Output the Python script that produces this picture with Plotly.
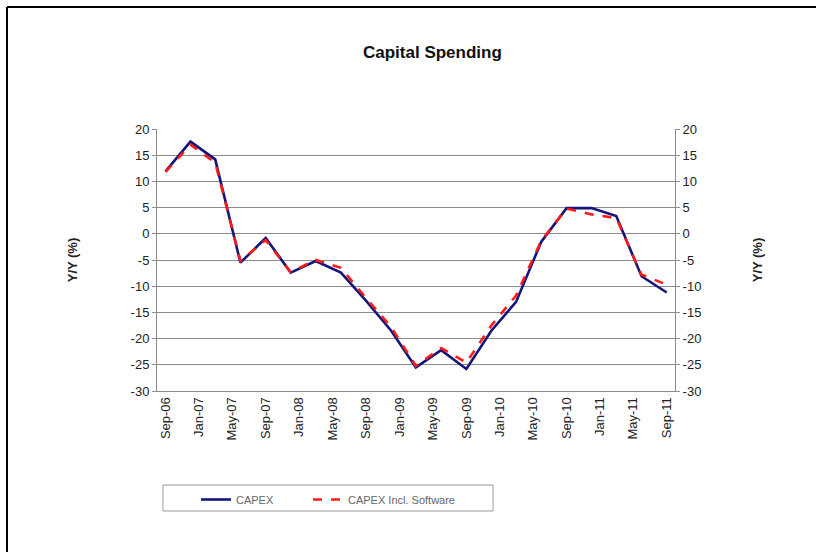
import plotly.graph_objects as go

# Quarterly observations, Sep-06 through Sep-11
quarters = [
    "2006-09-01", "2006-12-01", "2007-03-01", "2007-06-01", "2007-09-01",
    "2007-12-01", "2008-03-01", "2008-06-01", "2008-09-01", "2008-12-01",
    "2009-03-01", "2009-06-01", "2009-09-01", "2009-12-01", "2010-03-01",
    "2010-06-01", "2010-09-01", "2010-12-01", "2011-03-01", "2011-06-01",
    "2011-09-01",
]
capex = [11.9, 17.6, 14.2, -5.5, -0.8, -7.4, -5.2, -7.4, -12.8, -18.5,
         -25.5, -22.2, -25.8, -18.5, -13.0, -1.5, 4.9, 4.9, 3.4, -8.1, -11.2]
capex_software = [11.8, 17.0, 13.6, -5.2, -1.2, -7.3, -5.0, -6.5, -12.3, -17.8,
                  -25.2, -21.8, -24.6, -17.5, -11.8, -1.3, 4.8, 3.7, 3.0, -7.8, -9.7]

series_names = ["CAPEX", "CAPEX Incl. Software"]
y_ticks = [20, 15, 10, 5, 0, -5, -10, -15, -20, -25, -30]
y_ticktext = [str(v) for v in y_ticks]  # plain hyphen minus signs

FONT = "Liberation Sans, Arial, sans-serif"
GRID = "#8c8c8c"

fig = go.Figure()
fig.add_trace(go.Scatter(
    x=quarters, y=capex, name=series_names[0], mode="lines",
    line=dict(color="#14147a", width=2.6), legend="legend",
))
fig.add_trace(go.Scatter(
    x=quarters, y=capex_software, name=series_names[1], mode="lines",
    line=dict(color="#ff1a1a", width=2.6, dash="dash"), yaxis="y2",
    legend="legend2",
))

# plot area spans x 157..675 px, y 129..391 px
L, R, T, B = 157, 816 - 675, 129, 552 - 391
pw, ph = 816 - L - R, 552 - T - B


def px_x(p):
    return (p - L) / pw


def px_y(p):
    return (552 - B - p) / ph


title_font = dict(family=FONT, size=13, color="#222")
axis_common = dict(
    range=[-30, 20], tickvals=y_ticks, ticktext=y_ticktext, ticks="outside",
    ticklen=4, tickcolor=GRID, showline=True, linecolor=GRID, linewidth=1,
    tickfont=dict(family=FONT, size=13, color="#222"), zeroline=False,
    fixedrange=True,
)

legend_common = dict(
    orientation="h", y=px_y(485), xanchor="left", yanchor="top",
    bgcolor="rgba(0,0,0,0)", borderwidth=0,
    font=dict(family=FONT, size=11, color="#666"), itemwidth=30,
)

fig.update_layout(
    width=816, height=552,
    margin=dict(l=L, r=R, t=T, b=B, pad=0),
    paper_bgcolor="white", plot_bgcolor="white",
    showlegend=True,
    xaxis=dict(
        type="date", range=["2006-08-01", "2011-10-01"],
        tick0="2006-09-01", dtick="M4", tickformat="%b-%y",
        tickangle=-90, ticks="", showgrid=False,
        showline=True, linecolor=GRID, linewidth=1,
        tickfont=dict(family=FONT, size=13, color="#222"),
    ),
    yaxis=dict(
        **axis_common, showgrid=True, gridcolor=GRID, gridwidth=1,
        title=dict(text="<b>Y/Y (%)</b>", font=title_font, standoff=50),
    ),
    yaxis2=dict(
        **axis_common, overlaying="y", side="right", showgrid=False,
        title=dict(text="<b>Y/Y (%)</b>", font=title_font, standoff=52),
    ),
    legend=dict(**legend_common, x=px_x(196)),
    legend2=dict(**legend_common, x=px_x(308)),
    annotations=[dict(
        text="<b>Capital Spending</b>", xref="paper", yref="paper",
        x=px_x(432), y=px_y(52), xanchor="center", yanchor="middle",
        showarrow=False, font=dict(family=FONT, size=17, color="#111"),
    )],
    shapes=[
        dict(type="line", xref="paper", yref="paper",
             x0=px_x(7), x1=px_x(820), y0=px_y(7), y1=px_y(7),
             line=dict(color="black", width=2)),
        dict(type="line", xref="paper", yref="paper",
             x0=px_x(7), x1=px_x(7), y0=px_y(7), y1=px_y(560),
             line=dict(color="black", width=2)),
        # legend frame
        dict(type="rect", xref="paper", yref="paper", layer="below",
             x0=px_x(163), x1=px_x(493), y0=px_y(485), y1=px_y(511),
             line=dict(color="#999", width=1), fillcolor="white"),
    ],
)

fig.write_html("out.html")
